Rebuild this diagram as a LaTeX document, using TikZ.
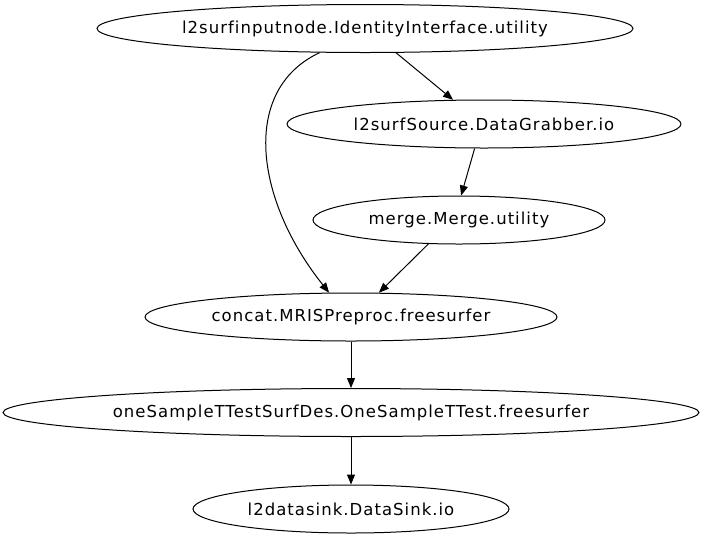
\documentclass[tikz,border=0pt]{standalone}
\usepackage{fontspec}
\setmainfont{DejaVu Sans}[LetterSpace=6.2,Ligatures=CommonOff]
\usetikzlibrary{shapes.geometric,arrows.meta}
\begin{document}
\begin{tikzpicture}[x=1pt,y=-1pt,
  nd/.style={draw,ellipse,inner sep=0pt,minimum height=48pt,font=\fontsize{16.5}{18}\selectfont,line width=1pt},
  ed/.style={draw,line width=1pt,-{Triangle[length=10pt,width=8pt]}}]
\useasboundingbox (0,0) rectangle (704,539);
\node[nd,minimum width=536pt] (n1) at (365,28.5) {l2surfinputnode.IdentityInterface.utility};
\node[nd,minimum width=394pt] (n2) at (484,124) {l2surfSource.DataGrabber.io};
\node[nd,minimum width=292pt] (n3) at (459,220) {merge.Merge.utility};
\node[nd,minimum width=412pt] (n4) at (351,317) {concat.MRISPreproc.freesurfer};
\node[nd,minimum width=696pt] (n5) at (351,412.5) {oneSampleTTestSurfDes.OneSampleTTest.freesurfer};
\node[nd,minimum width=316pt] (n6) at (351,509) {l2datasink.DataSink.io};
\draw[ed] (n1.-38.7) -- (n2.142.8);
\draw[ed] (n1.-152) .. controls (240,90) and (255,200) .. (n4.132.5);
\draw[ed] (n2.-111) -- (n3.85);
\draw[ed] (n3.-142) -- (n4.41.6);
\draw[ed] (n4.south) -- (n5.north);
\draw[ed] (n5.south) -- (n6.north);
\end{tikzpicture}
\end{document}
